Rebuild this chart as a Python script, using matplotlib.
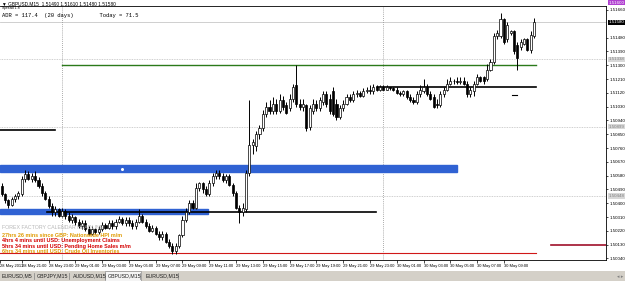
import matplotlib
matplotlib.use("Agg")
import matplotlib.pyplot as plt
from matplotlib.patches import Rectangle
import numpy as np

plt.rcParams['font.family'] = ['Liberation Sans', 'DejaVu Sans']

# GBPUSD M15 candles, 28 May 19:30 -> 30 May 09:45
opens = [1.5051, 1.5046, 1.5042, 1.5039, 1.5043, 1.5045, 1.5046, 1.5056, 1.5059, 1.5056,
         1.5058, 1.5055, 1.5051, 1.5047, 1.5043, 1.5038, 1.5034, 1.5036, 1.5032, 1.5035,
         1.5032, 1.5029, 1.5031, 1.5028, 1.5025, 1.5027, 1.5023, 1.5020, 1.5023, 1.5021,
         1.5023, 1.5026, 1.5024, 1.5027, 1.5025, 1.5028, 1.5030, 1.5027, 1.5029, 1.5027,
         1.5025, 1.5028, 1.5032, 1.5028, 1.5025, 1.5022, 1.5024, 1.5020, 1.5018, 1.5020,
         1.5015, 1.5012, 1.5009, 1.5012, 1.5019, 1.5029, 1.5034, 1.5040, 1.5037, 1.5050,
         1.5053, 1.5049, 1.5046, 1.5053, 1.5058, 1.5060, 1.5058, 1.5055, 1.5058, 1.5052,
         1.5047, 1.5037, 1.5034, 1.5036, 1.5060, 1.5078, 1.5077, 1.5085, 1.5089, 1.5098,
         1.5103, 1.5100, 1.5105, 1.5100, 1.5107, 1.5104, 1.5102, 1.5108, 1.5117, 1.5105,
         1.5103, 1.5104, 1.5090, 1.5100, 1.5105, 1.5102, 1.5106, 1.5111, 1.5108, 1.5113,
         1.5105, 1.5096, 1.5102, 1.5105, 1.5109, 1.5107, 1.5111, 1.5112, 1.5110, 1.5113,
         1.5114, 1.5113, 1.5116, 1.5114, 1.5116, 1.5114, 1.5116, 1.5115, 1.5114, 1.5112,
         1.5111, 1.5113, 1.5109, 1.5107, 1.5106, 1.5111, 1.5113, 1.5116, 1.5111, 1.5109,
         1.5105, 1.5104, 1.5111, 1.5114, 1.5118, 1.5120, 1.5120, 1.5119, 1.5120, 1.5118,
         1.5111, 1.5113, 1.5118, 1.5122, 1.5122, 1.5121, 1.5127, 1.5132, 1.5149, 1.5149,
         1.5160, 1.5147, 1.5151, 1.5152, 1.5143, 1.5142, 1.5144, 1.5147, 1.5140, 1.5149]
highs = [1.5053, 1.5047, 1.5043, 1.5044, 1.5046, 1.5048, 1.5058, 1.5062, 1.5061, 1.5060,
         1.5061, 1.5057, 1.5053, 1.5048, 1.5045, 1.5040, 1.5038, 1.5037, 1.5037, 1.5036,
         1.5034, 1.5033, 1.5032, 1.5030, 1.5029, 1.5029, 1.5025, 1.5025, 1.5024, 1.5025,
         1.5028, 1.5027, 1.5029, 1.5029, 1.5030, 1.5032, 1.5031, 1.5031, 1.5031, 1.5029,
         1.5030, 1.5036, 1.5033, 1.5030, 1.5027, 1.5026, 1.5025, 1.5022, 1.5022, 1.5021,
         1.5017, 1.5014, 1.5014, 1.5020, 1.5032, 1.5037, 1.5042, 1.5042, 1.5053, 1.5054,
         1.5054, 1.5051, 1.5055, 1.5060, 1.5062, 1.5062, 1.5060, 1.5059, 1.5059, 1.5053,
         1.5048, 1.5039, 1.5040, 1.5062, 1.5107, 1.5082, 1.5087, 1.5091, 1.5101, 1.5106,
         1.5107, 1.5109, 1.5108, 1.5111, 1.5110, 1.5106, 1.5111, 1.5118, 1.5130, 1.5108,
         1.5108, 1.5105, 1.5104, 1.5108, 1.5107, 1.5109, 1.5113, 1.5113, 1.5111, 1.5116,
         1.5108, 1.5104, 1.5107, 1.5111, 1.5111, 1.5113, 1.5114, 1.5113, 1.5115, 1.5116,
         1.5117, 1.5118, 1.5117, 1.5117, 1.5117, 1.5117, 1.5116, 1.5116, 1.5116, 1.5113,
         1.5114, 1.5114, 1.5111, 1.5109, 1.5113, 1.5117, 1.5121, 1.5118, 1.5113, 1.5111,
         1.5108, 1.5113, 1.5116, 1.5121, 1.5122, 1.5121, 1.5122, 1.5122, 1.5122, 1.5120,
         1.5116, 1.5120, 1.5124, 1.5123, 1.5123, 1.5131, 1.5134, 1.5151, 1.5153, 1.5164,
         1.5161, 1.5158, 1.5153, 1.5153, 1.5145, 1.5147, 1.5148, 1.5148, 1.5152, 1.5161]
lows = [1.5045, 1.5040, 1.5037, 1.5038, 1.5041, 1.5043, 1.5045, 1.5054, 1.5055, 1.5054,
        1.5054, 1.5050, 1.5045, 1.5042, 1.5037, 1.5032, 1.5032, 1.5031, 1.5031, 1.5030,
        1.5028, 1.5027, 1.5026, 1.5024, 1.5023, 1.5022, 1.5019, 1.5019, 1.5020, 1.5020,
        1.5022, 1.5023, 1.5023, 1.5023, 1.5023, 1.5027, 1.5026, 1.5025, 1.5025, 1.5023,
        1.5023, 1.5027, 1.5027, 1.5024, 1.5021, 1.5021, 1.5019, 1.5016, 1.5016, 1.5014,
        1.5011, 1.5007, 1.5007, 1.5011, 1.5018, 1.5028, 1.5033, 1.5036, 1.5036, 1.5048,
        1.5047, 1.5045, 1.5045, 1.5051, 1.5056, 1.5056, 1.5054, 1.5053, 1.5051, 1.5045,
        1.5036, 1.5027, 1.5032, 1.5034, 1.5058, 1.5072, 1.5074, 1.5082, 1.5087, 1.5096,
        1.5098, 1.5098, 1.5098, 1.5099, 1.5101, 1.5098, 1.5100, 1.5106, 1.5103, 1.5101,
        1.5100, 1.5087, 1.5088, 1.5098, 1.5100, 1.5100, 1.5104, 1.5103, 1.5098, 1.5097,
        1.5094, 1.5095, 1.5100, 1.5104, 1.5106, 1.5106, 1.5109, 1.5109, 1.5109, 1.5112,
        1.5111, 1.5111, 1.5113, 1.5113, 1.5114, 1.5114, 1.5114, 1.5113, 1.5111, 1.5110,
        1.5110, 1.5108, 1.5106, 1.5105, 1.5105, 1.5109, 1.5112, 1.5110, 1.5107, 1.5102,
        1.5102, 1.5103, 1.5109, 1.5113, 1.5117, 1.5118, 1.5118, 1.5118, 1.5117, 1.5109,
        1.5109, 1.5110, 1.5117, 1.5119, 1.5118, 1.5120, 1.5126, 1.5131, 1.5147, 1.5148,
        1.5144, 1.5145, 1.5150, 1.5137, 1.5127, 1.5140, 1.5143, 1.5139, 1.5138, 1.5148]
closes = [1.5046, 1.5042, 1.5039, 1.5043, 1.5045, 1.5047, 1.5056, 1.5059, 1.5056, 1.5058,
          1.5055, 1.5051, 1.5047, 1.5043, 1.5038, 1.5034, 1.5036, 1.5032, 1.5035, 1.5032,
          1.5029, 1.5031, 1.5028, 1.5025, 1.5027, 1.5023, 1.5020, 1.5023, 1.5021, 1.5023,
          1.5026, 1.5024, 1.5027, 1.5025, 1.5028, 1.5030, 1.5027, 1.5029, 1.5027, 1.5025,
          1.5028, 1.5032, 1.5028, 1.5025, 1.5022, 1.5024, 1.5020, 1.5018, 1.5020, 1.5015,
          1.5012, 1.5009, 1.5012, 1.5019, 1.5029, 1.5034, 1.5040, 1.5037, 1.5050, 1.5053,
          1.5049, 1.5046, 1.5053, 1.5058, 1.5060, 1.5058, 1.5055, 1.5058, 1.5052, 1.5047,
          1.5037, 1.5034, 1.5037, 1.5060, 1.5078, 1.5080, 1.5085, 1.5089, 1.5098, 1.5103,
          1.5100, 1.5105, 1.5100, 1.5107, 1.5103, 1.5099, 1.5108, 1.5116, 1.5105, 1.5103,
          1.5105, 1.5089, 1.5102, 1.5105, 1.5102, 1.5107, 1.5111, 1.5105, 1.5100, 1.5098,
          1.5096, 1.5102, 1.5105, 1.5109, 1.5107, 1.5111, 1.5112, 1.5110, 1.5113, 1.5114,
          1.5113, 1.5116, 1.5114, 1.5116, 1.5114, 1.5116, 1.5115, 1.5114, 1.5112, 1.5111,
          1.5113, 1.5109, 1.5107, 1.5106, 1.5111, 1.5114, 1.5116, 1.5111, 1.5108, 1.5103,
          1.5104, 1.5111, 1.5114, 1.5118, 1.5120, 1.5120, 1.5119, 1.5120, 1.5118, 1.5111,
          1.5114, 1.5118, 1.5122, 1.5120, 1.5120, 1.5127, 1.5132, 1.5149, 1.5151, 1.5160,
          1.5145, 1.5156, 1.5152, 1.5139, 1.5135, 1.5145, 1.5147, 1.5140, 1.5150, 1.5158]

# horizontal objects on the chart (price levels)
zone_hi = (1.50603, 1.50648)      # wide blue zone
zone_lo = (1.50332, 1.50364)      # short blue zone
black_left = 1.50880
black_mid = 1.50345
black_right = 1.51157
green_level = 1.51299
red_level = 1.50077
red_right = 1.50125
dotted_levels = [1.51338, 1.50899, 1.50448]
ask_price = 1.51600

# price axis ticks
ytick_vals = [round(1.50040 + 0.0009 * k, 5) for k in range(19)]

# time axis labels (every 2 hours = 8 bars)
xtick_pos = [-0.5] + list(range(6, 151, 8))
xtick_lbl = ["28 May 2013", "28 May 21:00", "28 May 23:00",
             "29 May 01:00", "29 May 03:00", "29 May 05:00", "29 May 07:00",
             "29 May 09:00", "29 May 11:00", "29 May 13:00", "29 May 15:00",
             "29 May 17:00", "29 May 19:00", "29 May 21:00", "29 May 23:00",
             "30 May 01:00", "30 May 03:00", "30 May 05:00", "30 May 07:00",
             "30 May 09:00"]
day_breaks = [18, 114]

news = [("27hrs 26 mins since GBP: Nationwide HPI m/m", "#e09a00"),
        ("4hrs 4 mins until USD: Unemployment Claims", "#d40000"),
        ("5hrs 34 mins until USD: Pending Home Sales m/m", "#d40000"),
        ("6hrs 34 mins until USD: Crude Oil Inventories", "#e09a00")]

tabs = ["EURUSD,M5", "GBPJPY,M15", "AUDUSD,M15", "GBPUSD,M15", "EURUSD,M15"]

W, H = 625, 281
fig = plt.figure(figsize=(W / 100, H / 100), dpi=100)
fig.patch.set_facecolor('white')
ax = fig.add_axes([0, 21 / H, 606 / W, 254 / H])

o = np.array(opens); h = np.array(highs); l = np.array(lows); c = np.array(closes)
x = np.arange(len(o))
up = c >= o

ax.vlines(x, l, h, color='black', linewidth=0.7, zorder=3)
ax.bar(x[up], (c - o)[up], bottom=o[up], width=0.62, color='white',
       edgecolor='black', linewidth=0.5, zorder=4)
ax.bar(x[~up], (o - c)[~up], bottom=c[~up], width=0.62, color='black',
       edgecolor='black', linewidth=0.5, zorder=4)

last = len(o) - 1
xmin, xmax = -0.5, 180.5
span = xmax - xmin

# objects
ax.axhspan(zone_hi[0], zone_hi[1], xmin=0, xmax=(136.1 - xmin) / span,
           color='#3062d3', zorder=2)
ax.axhspan(zone_lo[0], zone_lo[1], xmin=0, xmax=(61.5 - xmin) / span,
           color='#3062d3', zorder=2)
ax.plot([xmin, 15.9], [black_left] * 2, color='black', lw=1.2, zorder=2)
ax.plot([13.5, 111.9], [black_mid] * 2, color='black', lw=1.2, zorder=2)
ax.plot([112, 159.5], [black_right] * 2, color='black', lw=1.2, zorder=2)
ax.plot([152.5, 154], [1.51106] * 2, color='black', lw=0.8, zorder=2)
ax.plot([18, 159.5], [green_level] * 2, color='#2b7a1a', lw=1.0, zorder=2)
ax.plot([xmin, 159.5], [red_level] * 2, color='#d01818', lw=0.8, zorder=2)
ax.plot([164.1, xmax], [red_right] * 2, color='#a0102a', lw=1.2, zorder=2)
for lv in dotted_levels:
    ax.axhline(lv, color='#c0c0c0', lw=0.6, ls=(0, (1, 1)), zorder=1)
ax.axhline(c[-1], color='#c8c8c8', lw=0.6, zorder=1)
for d in day_breaks:
    ax.axvline(d, color='#909090', lw=0.6, ls=(0, (1, 1.5)), zorder=1)
ax.plot([36], [1.50625], marker='o', ms=1.2, color='white', mec='white', zorder=3)

ax.set_xlim(xmin, xmax)
ax.set_ylim(1.50030, 1.51686)

# tick labels hidden behind the current-price box are left out, as on screen
shown = [v for v in ytick_vals if abs(v - c[-1]) > 0.0004]
ax.yaxis.tick_right()
ax.set_yticks(shown, [f"{v:.5f}" for v in shown])
ax.tick_params(axis='y', length=1.5, width=0.5, pad=0.8, labelsize=3.2)
ax.set_xticks(xtick_pos, xtick_lbl)
ax.tick_params(axis='x', length=2, width=0.5, pad=1, labelsize=2.9)
for t in ax.get_xticklabels():
    t.set_ha('left')
for sp in ax.spines.values():
    sp.set_linewidth(0.6)
ax.spines['left'].set_visible(False)

# price boxes on the right axis
box_kw = dict(transform=ax.get_yaxis_transform(), fontsize=3.2, va='center',
              ha='left', zorder=10, clip_on=False)
for lv in dotted_levels:
    ax.text(1.004, lv, f"{lv:.5f}", color='#808080',
            bbox=dict(boxstyle='square,pad=0.15', fc='#d8d8d8', ec='none'), **box_kw)
ax.text(1.004, c[-1], f"{c[-1]:.5f}", color='white',
        bbox=dict(boxstyle='square,pad=0.15', fc='black', ec='none'), **box_kw)
ax.text(1.004, 1.51708, f"{ask_price:.5f}", color='white',
        bbox=dict(boxstyle='square,pad=0.15', fc='#b040d0', ec='none'), **box_kw)

# header texts
fig.text(2 / W, 1 - 3.5 / H,
         f"\u25bc GBPUSD,M15  {o[last]:.5f} {h[last]:.5f} {l[last]:.5f} {c[last]:.5f}",
         fontsize=3.4, va='center', ha='left', color='black')
fig.text(2 / W, 1 - 7.5 / H, "Spread 1.8", fontsize=2.6, va='center', ha='left',
         color='black')
ax.text(0.004, 0.972, "ADR = 117.4  (20 days)        Today = 71.5",
        transform=ax.transAxes, fontsize=4.0, family='Liberation Mono',
        va='top', ha='left', color='black')

# calendar headline block
ax.text(0.004, 0.126, "FOREX FACTORY CALENDAR HEADLINE", transform=ax.transAxes,
        fontsize=3.8, color='#b8b8b8', va='center', ha='left', zorder=11)
for k, (txt, col) in enumerate(news):
    ax.text(0.004, 0.098 - k * 0.0215, txt, transform=ax.transAxes, fontsize=3.9,
            color=col, fontweight='bold', va='center', ha='left', zorder=11)

# tab bar at the bottom
fig.add_artist(Rectangle((0, 0), 1, 10 / H, transform=fig.transFigure,
                         facecolor='#d4d0c8', edgecolor='none'))
tab_x = [2, 37, 73, 108, 146]
for k, name in enumerate(tabs):
    if k == 3:
        fig.add_artist(Rectangle((105 / W, 0), 36 / W, 10 / H, transform=fig.transFigure,
                                 facecolor='#f4f4f4', edgecolor='#909090', lw=0.5))
    fig.text(tab_x[k] / W, 5 / H, name, fontsize=3.8, va='center', ha='left', color='#202020')
    fig.add_artist(plt.Line2D([(tab_x[k] + 32) / W] * 2, [2 / H, 8 / H],
                              transform=fig.transFigure, color='#808080', lw=0.5))
fig.text(1 - 8 / W, 5 / H, "\u25c2 \u25b8", fontsize=3.5, va='center', color='#808080')

fig.savefig("out.png", dpi=100)
